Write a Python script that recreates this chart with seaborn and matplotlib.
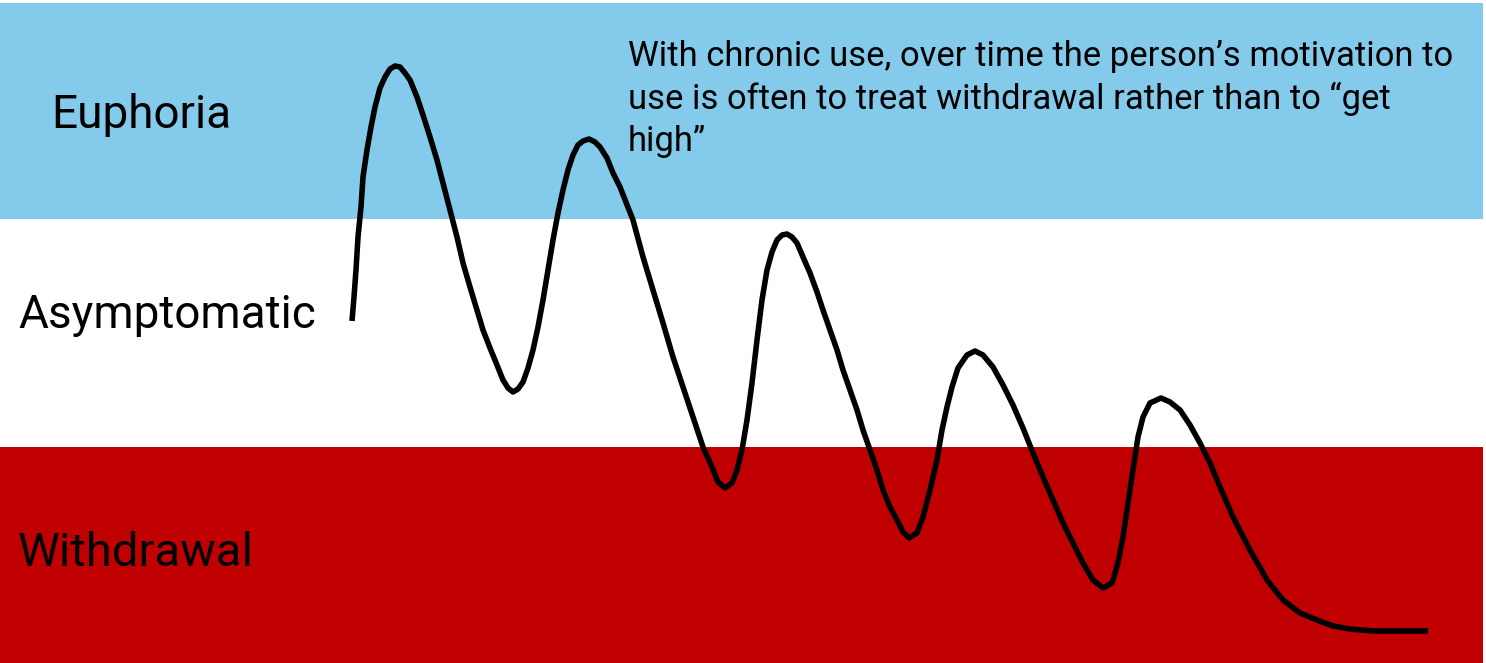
import matplotlib
matplotlib.use("Agg")
import matplotlib.pyplot as plt
import seaborn as sns
import pandas as pd

sns.set_theme(style="white")

# Zone labels and band extents (in the picture's own vertical units, 0 = top)
zones = ["Euphoria", "Asymptomatic", "Withdrawal"]
zone_colors = ["#83CAEB", "#FFFFFF", "#C00000"]
band_top = [3, 219, 447]
band_bottom = [219, 447, 663]

# Curve (x, level; level grows downward)
curve_x = [352, 354, 356, 358, 361, 363, 367, 371, 375, 380, 385, 390, 395, 400, 405, 410, 417, 423,
           430, 437, 443, 450, 457, 463, 470, 477, 483, 490, 497, 503, 508, 513, 518, 523, 528, 533,
           538, 543, 548, 553, 558, 563, 568, 573, 578, 583, 589, 595, 600, 607, 613, 620,
           633, 643, 653, 663, 673, 683, 693, 703, 712, 718, 725, 732, 737, 742, 747, 752, 757, 762,
           767, 772, 777, 782, 787, 792, 797, 803, 810, 817, 823, 830, 837, 843, 850, 857, 863, 870,
           877, 883, 890, 897, 903, 909, 917, 923, 930, 937, 942, 947, 952, 958, 967, 975, 983, 993,
           1003, 1013, 1023, 1033, 1043, 1053, 1063, 1073, 1083, 1093, 1103, 1112, 1118, 1123, 1128,
           1133, 1138, 1143, 1150, 1161, 1170, 1180, 1190, 1200, 1210, 1220, 1233, 1250, 1267, 1283,
           1300, 1317, 1333, 1350, 1373, 1395, 1428]
curve_y = [321, 297, 270, 237, 207, 177, 150, 127, 107, 88, 77, 69, 66, 67, 73, 80, 97, 115,
           137, 160, 183, 210, 237, 263, 287, 310, 330, 348, 365, 380, 388, 392, 389, 382, 368, 350,
           327, 300, 270, 240, 213, 190, 170, 155, 145, 141, 139, 142, 147, 158, 173, 187,
           220, 257, 290, 323, 357, 387, 417, 447, 467, 482, 488, 483, 470, 450, 420, 383, 340, 300,
           270, 252, 240, 235, 234, 237, 243, 257, 273, 292, 310, 330, 350, 370, 390, 410, 430, 450,
           470, 490, 507, 520, 532, 538, 533, 517, 490, 460, 430, 407, 387, 368, 355, 351, 355, 367,
           385, 405, 428, 453, 477, 500, 523, 543, 563, 580, 588, 583, 563, 537, 503,
           470, 437, 417, 403, 398, 402, 410, 425, 443, 463, 487, 517, 550, 580, 600,
           613, 620, 626, 629, 631, 631, 631]

annotation_lines = ["With chronic use, over time the person\u2019s motivation to",
                    "use is often to treat withdrawal rather than to \u201cget",
                    "high\u201d"]

W, H = 1486, 663
fig = plt.figure(figsize=(W / 100, H / 100), dpi=100)
ax = fig.add_axes([0, 0, 1, 1])

band_right = 1483
for top, bot, col in zip(band_top, band_bottom, zone_colors):
    ax.axhspan(top, bot, xmin=0, xmax=band_right / W, color=col, lw=0, zorder=0)

df = pd.DataFrame({"x": curve_x, "y": curve_y})
sns.lineplot(data=df, x="x", y="y", sort=False, color="black", linewidth=4.0, ax=ax,
             estimator=None, zorder=3)
ax.lines[-1].set_solid_capstyle("butt")
ax.lines[-1].set_solid_joinstyle("round")
ax.set_xlim(0, W)
ax.set_ylim(H, 0)
ax.axis("off")

label_font = ["Roboto", "DejaVu Sans"]
label_pos = [(51, 128), (18, 328), (18, 566)]
label_sizes = [33, 33, 34]
for name, (lx, ly), fs in zip(zones, label_pos, label_sizes):
    ax.text(lx, ly, name, fontsize=fs, family=label_font, color="black",
            ha="left", va="baseline", zorder=4)

ann_baselines = [66, 109, 151]
for line, by in zip(annotation_lines, ann_baselines):
    ax.text(628, by, line, fontsize=24.9, family=label_font, color="black",
            ha="left", va="baseline", zorder=4)

fig.savefig("out.png", dpi=100)
